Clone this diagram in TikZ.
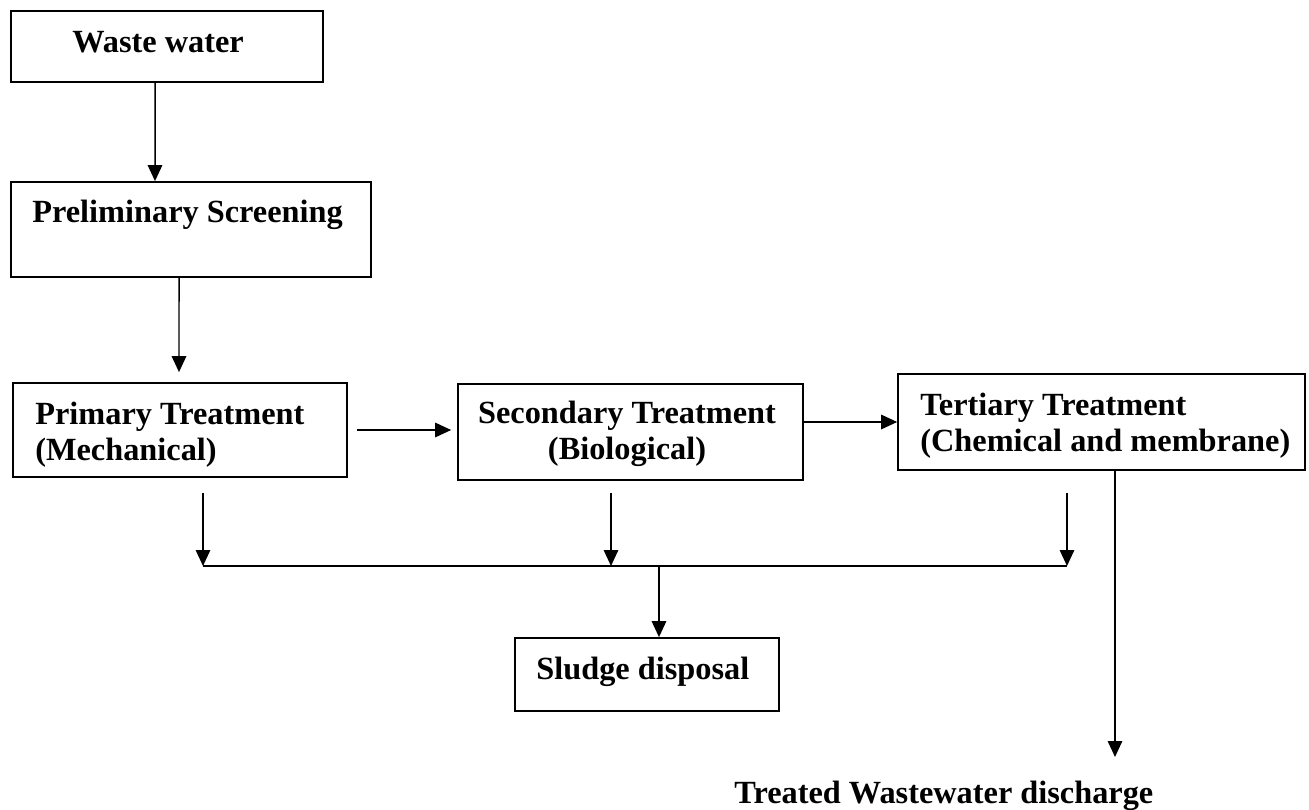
\documentclass[tikz,border=0pt]{standalone}
\usepackage{fontspec}
\setmainfont{Liberation Serif}
\usepackage{tikz}
\usetikzlibrary{arrows.meta}

\begin{document}
\begin{tikzpicture}[x=0.02cm,y=-0.02cm,
  stage/.style={draw,line width=1pt,inner sep=0pt},
  txt/.style={inner sep=0pt,font=\fontsize{18.4}{20.2}\selectfont\bfseries},
  flow/.style={line width=0.85pt,-{Triangle[length=0.32cm,width=0.29cm]}}]
\useasboundingbox (0,0) rectangle (1309,810);
% boxes
\node[stage,minimum width=6.24cm,minimum height=1.42cm] (ww) at (167,46.5) {};
\node[stage,minimum width=7.2cm,minimum height=1.9cm] (ps) at (191,229.5) {};
\node[stage,minimum width=6.68cm,minimum height=1.88cm] (pt) at (180,430) {};
\node[stage,minimum width=6.9cm,minimum height=1.92cm] (st) at (630.5,432) {};
\node[stage,minimum width=8.14cm,minimum height=1.92cm] (tt) at (1101.5,422) {};
\node[stage,minimum width=5.28cm,minimum height=1.46cm] (sd) at (647,674.5) {};
% texts
\node[txt,anchor=base west] (wwt) at (72,53) {Waste water};
\node[txt,anchor=base west] (pst) at (32,223) {Preliminary Screening};
\node[txt,anchor=north west,align=left] (ptt) at (35,402) {Primary Treatment\\(Mechanical)};
\node[txt,anchor=north,align=center] (stt) at (627,401) {Secondary Treatment\\(Biological)};
\node[txt,anchor=north west,align=left] (ttt) at (920,393) {Tertiary Treatment\\(Chemical and membrane)};
\node[txt,anchor=base west] (sdt) at (536,680) {Sludge disposal};
\node[txt,anchor=base west] (out) at (734,803) {Treated Wastewater discharge};
% joints
\coordinate (busL) at (203,566);
\coordinate (busS) at (611,566);
\coordinate (busM) at (659,566);
\coordinate (busR) at (1067,566);
\coordinate (outtip) at (1115,757);
% arrows
\draw[flow] ([xshift=-0.24cm]ww.south) -- ([xshift=-0.72cm]ps.north);
\draw[flow,shorten >=0.2cm] ([xshift=-0.24cm]ps.south) -- ([xshift=-0.02cm]pt.north);
\draw[flow,shorten <=0.18cm,shorten >=0.12cm] (pt.east) -- (pt.east -| st.west);
\draw[flow] (tt.west -| st.east) -- (tt.west);
\draw[flow] ([yshift=1.46cm]busL) -- (busL);
\draw[flow] ([yshift=1.46cm]busS) -- (busS);
\draw[flow] ([yshift=1.46cm]busR) -- (busR);
\draw[line width=0.85pt] (busL) -- (busR);
\draw[flow] (busM) -- (busM |- sd.north);
\draw[flow] (outtip |- tt.south) -- (outtip);
\end{tikzpicture}
\end{document}
